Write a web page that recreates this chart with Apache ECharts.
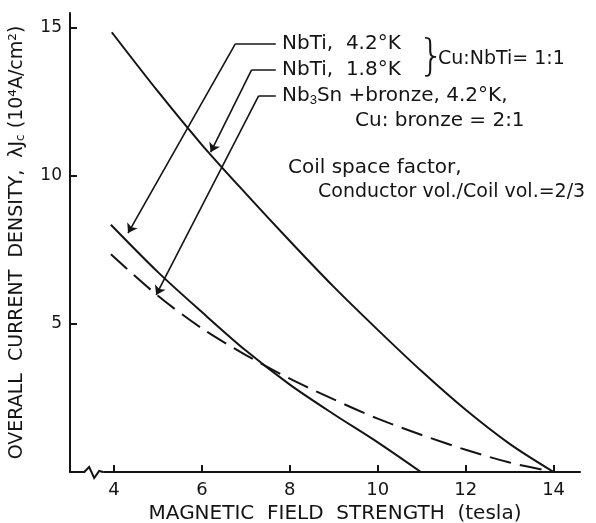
<!DOCTYPE html>
<html><head><meta charset="utf-8">
<script src="https://cdn.jsdelivr.net/npm/echarts@6/dist/echarts.min.js"></script>
<style>html,body{margin:0;padding:0;background:#fff}#c{width:596px;height:523px}</style>
</head><body><div id="c"></div>
<script>
// ---- data ----
const xTicks = [4, 6, 8, 10, 12, 14];
const yTicks = [5, 10, 15];
const nbti18Field = [3.95, 5, 6, 7, 8, 9, 10, 11, 12, 13, 14];
const nbti18J     = [14.85, 12.85, 11.05, 9.4, 7.8, 6.25, 4.8, 3.4, 2.1, 0.95, 0];
const nbti42Field = [3.93, 5, 6, 7, 8, 9, 10, 10.98];
const nbti42J     = [8.35, 6.75, 5.4, 4.1, 2.95, 1.95, 1.0, 0];
const nb3snField  = [3.93, 5, 6, 7, 8, 9, 10, 11, 12, 13, 14];
const nb3snJ      = [7.35, 5.95, 4.85, 3.95, 3.15, 2.45, 1.8, 1.25, 0.75, 0.32, 0];
// leader lines: [label end, elbow, arrow tip] in (tesla, 10^4 A/cm^2)
const leader42 = [[7.68, 14.46], [6.76, 14.46], [4.32, 8.07]];
const leader18 = [[7.68, 13.58], [7.13, 13.58], [6.2, 10.8]];
const leaderSn = [[7.68, 12.7], [7.29, 12.7], [4.96, 5.98]];

const zip = (a, b) => a.map((v, i) => [v, b[i]]);
const ink = '#141414';
const font = '"DejaVu Sans", sans-serif';

const chart = echarts.init(document.getElementById('c'), null, {renderer: 'canvas'});
const leaders = [leader42, leader18, leaderSn];

chart.setOption({
  backgroundColor: '#ffffff',
  animation: false,
  grid: {left: 70, right: 16, top: 13, bottom: 51, outerBoundsMode: 'none', containLabel: false},
  xAxis: {
    type: 'value', min: 3, max: 14.6,
    name: 'MAGNETIC  FIELD  STRENGTH  (tesla)',
    nameLocation: 'middle', nameGap: 32,
    nameTextStyle: {color: ink, fontSize: 20, fontFamily: font, padding: [0, 0, 0, 20]},
    axisLine: {lineStyle: {color: ink, width: 2}},
    axisTick: {inside: true, length: 7, lineStyle: {color: ink, width: 2}, customValues: xTicks},
    axisLabel: {color: ink, fontSize: 18, fontFamily: font, margin: 9, customValues: xTicks},
    splitLine: {show: false}
  },
  yAxis: {
    type: 'value', min: 0, max: 15.5,
    name: 'OVERALL  CURRENT  DENSITY,  λJ{sub|c} (10⁴A/cm²)',
    nameLocation: 'middle', nameGap: 43, nameRotate: 90,
    nameTextStyle: {color: ink, fontSize: 19, fontFamily: font,
      rich: {sub: {fontSize: 12, verticalAlign: 'bottom', color: ink, fontFamily: font, padding: [7, 0, 0, 0]}}},
    axisLine: {lineStyle: {color: ink, width: 2}},
    axisTick: {inside: true, length: 7, lineStyle: {color: ink, width: 2}, customValues: yTicks},
    axisLabel: {color: ink, fontSize: 17, fontFamily: font, margin: 8, customValues: yTicks},
    splitLine: {show: false}
  },
  series: [
    {type: 'line', name: 'NbTi 1.8K', data: zip(nbti18Field, nbti18J), smooth: 0.3,
     symbol: 'none', lineStyle: {color: ink, width: 2}},
    {type: 'line', name: 'NbTi 4.2K', data: zip(nbti42Field, nbti42J), smooth: 0.3,
     symbol: 'none', lineStyle: {color: ink, width: 2}},
    {type: 'line', name: 'Nb3Sn', data: zip(nb3snField, nb3snJ), smooth: 0.3,
     symbol: 'none', lineStyle: {color: ink, width: 2, type: [22, 9]}},
    {type: 'lines', coordinateSystem: 'cartesian2d', symbol: 'none',
     lineStyle: {color: ink, width: 1.6, opacity: 1},
     data: leaders.map(l => ({coords: [l[0], l[1]]}))},
    {type: 'lines', coordinateSystem: 'cartesian2d', symbol: ['none', 'arrow'], symbolSize: [6, 9],
     lineStyle: {color: ink, width: 1.6, opacity: 1},
     data: leaders.map(l => ({coords: [l[1], l[2]]}))}
  ]
});

// annotation texts and axis-break mark
const txt = (x, y, text, size, extra) => ({
  type: 'text', x, y, silent: true,
  style: Object.assign({text, fill: ink, font: size + 'px ' + font, verticalAlign: 'middle'}, extra || {})
});
const bp = chart.convertToPixel({gridIndex: 0}, [3.55, 0]);
chart.setOption({
  graphic: [
    txt(282, 44, 'NbTi,  4.2°K', 20),
    txt(282, 70, 'NbTi,  1.8°K', 20),
    {type: 'text', x: 282, y: 96, silent: true,
     style: {text: 'Nb{s|3}Sn +bronze, 4.2°K,', fill: ink, font: '20px ' + font, verticalAlign: 'middle',
       rich: {s: {fontSize: 13, verticalAlign: 'bottom', fill: ink, padding: [8, 0, 0, 0]}}}},
    txt(355, 121, 'Cu: bronze = 2:1', 20),
    txt(418, 59, '}', 42, {font: '300 42px "DejaVu Sans"'}),
    txt(438, 59, 'Cu:NbTi= 1:1', 19),
    txt(288, 168, 'Coil space factor,', 20),
    txt(318, 192, 'Conductor vol./Coil vol.=2/3', 19),
    {type: 'rect', shape: {x: bp[0] - 9, y: bp[1] - 3, width: 18, height: 6}, style: {fill: '#fff'}, z: 100},
    {type: 'polyline', z: 101,
     shape: {points: [[bp[0] - 10, bp[1]], [bp[0] - 5, bp[1] - 5], [bp[0], bp[1] + 6], [bp[0] + 5, bp[1] - 1], [bp[0] + 9, bp[1]]]},
     style: {stroke: ink, lineWidth: 2, fill: null}}
  ]
});
</script></body></html>
